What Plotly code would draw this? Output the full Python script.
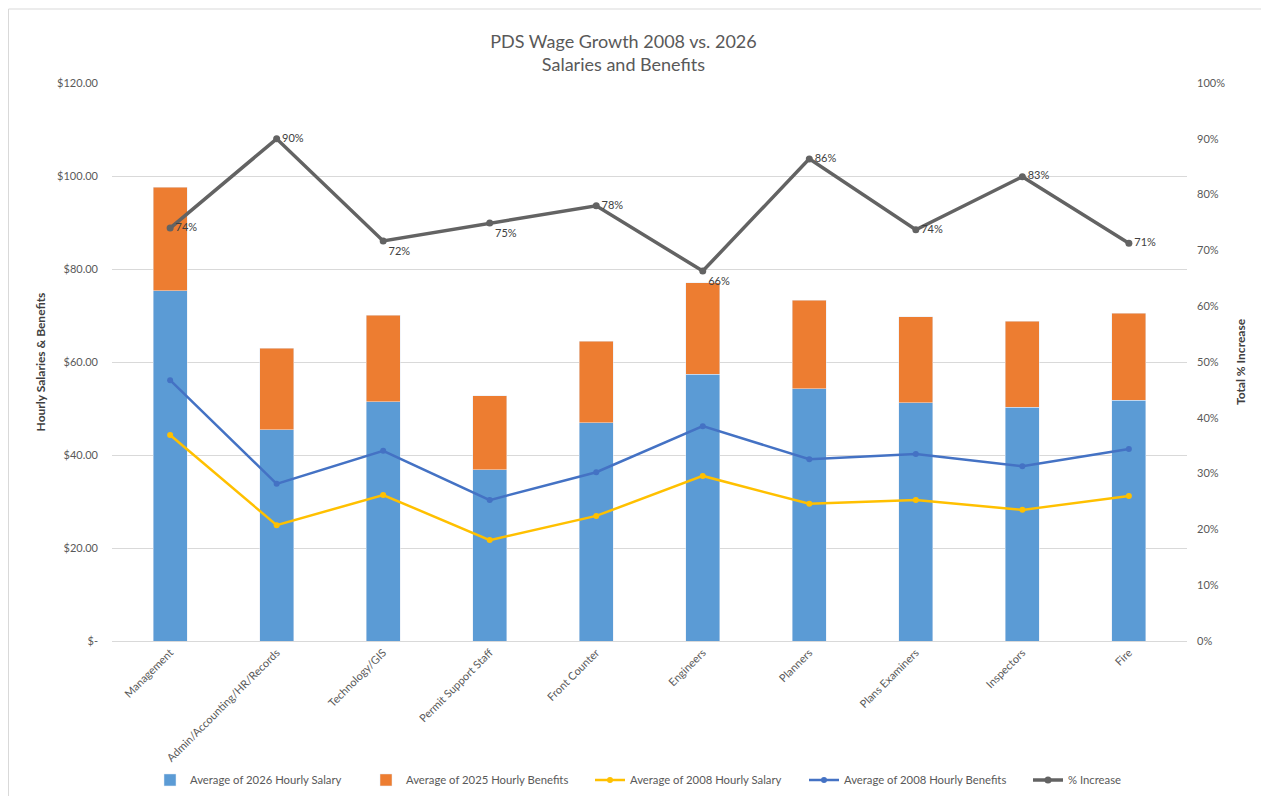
import plotly.graph_objects as go

categories = ["Management", "Admin/Accounting/HR/Records", "Technology/GIS", "Permit Support Staff",
              "Front Counter", "Engineers", "Planners", "Plans Examiners", "Inspectors", "Fire"]
salary_2026 = [75.3, 45.4, 51.4, 36.8, 46.9, 57.4, 54.2, 51.2, 50.3, 51.8]
benefits_2025 = [22.3, 17.6, 18.7, 15.9, 17.6, 19.6, 19.1, 18.5, 18.5, 18.7]
salary_2008 = [44.3, 24.9, 31.4, 21.7, 26.9, 35.5, 29.5, 30.3, 28.2, 31.2]
benefits_2008 = [56.1, 33.8, 40.9, 30.3, 36.3, 46.2, 39.1, 40.2, 37.6, 41.3]
pct_increase = [0.74, 0.90, 0.717, 0.749, 0.78, 0.663, 0.864, 0.737, 0.832, 0.713]
pct_labels = ["74%", "90%", "72%", "75%", "78%", "66%", "86%", "74%", "83%", "71%"]
pct_textpos = ["middle right", "middle right", "bottom right", "bottom right", "middle right",
               "bottom right", "middle right", "middle right", "middle right", "middle right"]

left_ticks = [0, 20, 40, 60, 80, 100, 120]
left_ticktext = ["$-", "$20.00", "$40.00", "$60.00", "$80.00", "$100.00", "$120.00"]

FONT = "Lato"
GREY = "#595959"

ML, MR, MT, MB = 104, 90, 75, 163
PW = 1269 - ML - MR
PH = 796 - MT - MB

fig = go.Figure()
fig.add_trace(go.Bar(x=categories, y=salary_2026, name="Average of 2026 Hourly Salary",
                     marker_color="#5B9BD5", legend="legend", showlegend=True))
fig.add_trace(go.Bar(x=categories, y=benefits_2025, name="Average of 2025 Hourly Benefits",
                     marker_color="#ED7D31", legend="legend2", showlegend=True))
fig.add_trace(go.Scatter(x=categories, y=salary_2008, name="Average of 2008 Hourly Salary",
                         mode="lines+markers", line=dict(color="#FFC000", width=2.5),
                         marker=dict(size=6, color="#FFC000"), legend="legend3", showlegend=True))
fig.add_trace(go.Scatter(x=categories, y=benefits_2008, name="Average of 2008 Hourly Benefits",
                         mode="lines+markers", line=dict(color="#4472C4", width=2.5),
                         marker=dict(size=6, color="#4472C4"), legend="legend4", showlegend=True))
fig.add_trace(go.Scatter(x=categories, y=pct_increase, name="% Increase", yaxis="y2",
                         mode="lines+markers+text", text=pct_labels, textposition=pct_textpos,
                         textfont=dict(size=11, color="#404040", family=FONT),
                         line=dict(color="#636363", width=3.5),
                         marker=dict(size=7, color="#636363"), legend="legend5", showlegend=True))

# legend entries placed individually (screen x of text start minus 40px symbol area)
legend_x_screen = [150, 366, 590, 804, 1028]


def legend_box(xs):
    return dict(orientation="h", x=(xs - 8 - ML) / PW, xanchor="left", y=-0.249, yanchor="middle",
                font=dict(size=11.3, color=GREY), bgcolor="rgba(0,0,0,0)")


fig.update_layout(
    width=1269, height=796,
    showlegend=True,
    barmode="stack", bargap=0.68,
    paper_bgcolor="white", plot_bgcolor="white",
    font=dict(family=FONT, color=GREY, size=11),
    title=dict(text="PDS Wage Growth 2008 vs. 2026<br>Salaries and Benefits", x=0.485, xanchor="center",
               y=0.950, yanchor="top", font=dict(size=18, color=GREY, family=FONT)),
    margin=dict(l=ML, r=MR, t=MT, b=MB, autoexpand=False),
    xaxis=dict(tickangle=-45, showline=True, linecolor="#D9D9D9", ticks="", automargin=False,
               tickfont=dict(size=11, color=GREY)),
    yaxis=dict(range=[0, 120], tickvals=left_ticks, ticktext=left_ticktext, automargin=False,
               showgrid=True, gridcolor="#D9D9D9", zeroline=False,
               tickfont=dict(size=11, color=GREY), ticklabelstandoff=13,
               title=dict(text="<b>Hourly Salaries & Benefits</b>", font=dict(size=12, color="#404040"),
                          standoff=8)),
    yaxis2=dict(range=[0, 1], dtick=0.1, tickformat=".0%", overlaying="y", side="right",
                showgrid=False, zeroline=False, tickfont=dict(size=11, color=GREY), automargin=False,
                ticklabelstandoff=9,
                title=dict(text="<b>Total % Increase</b>", font=dict(size=12, color="#404040"),
                           standoff=12)),
    legend=legend_box(legend_x_screen[0]),
    legend2=legend_box(legend_x_screen[1]),
    legend3=legend_box(legend_x_screen[2]),
    legend4=legend_box(legend_x_screen[3]),
    legend5=legend_box(legend_x_screen[4]),
    shapes=[dict(type="rect", xref="paper", yref="paper", x0=(0.5 - ML) / PW, x1=1.2,
                 y0=-0.5, y1=(PH + MT - 1) / PH, line=dict(color="#D9D9D9", width=1), layer="below")],
)

fig.write_html("out.html")
